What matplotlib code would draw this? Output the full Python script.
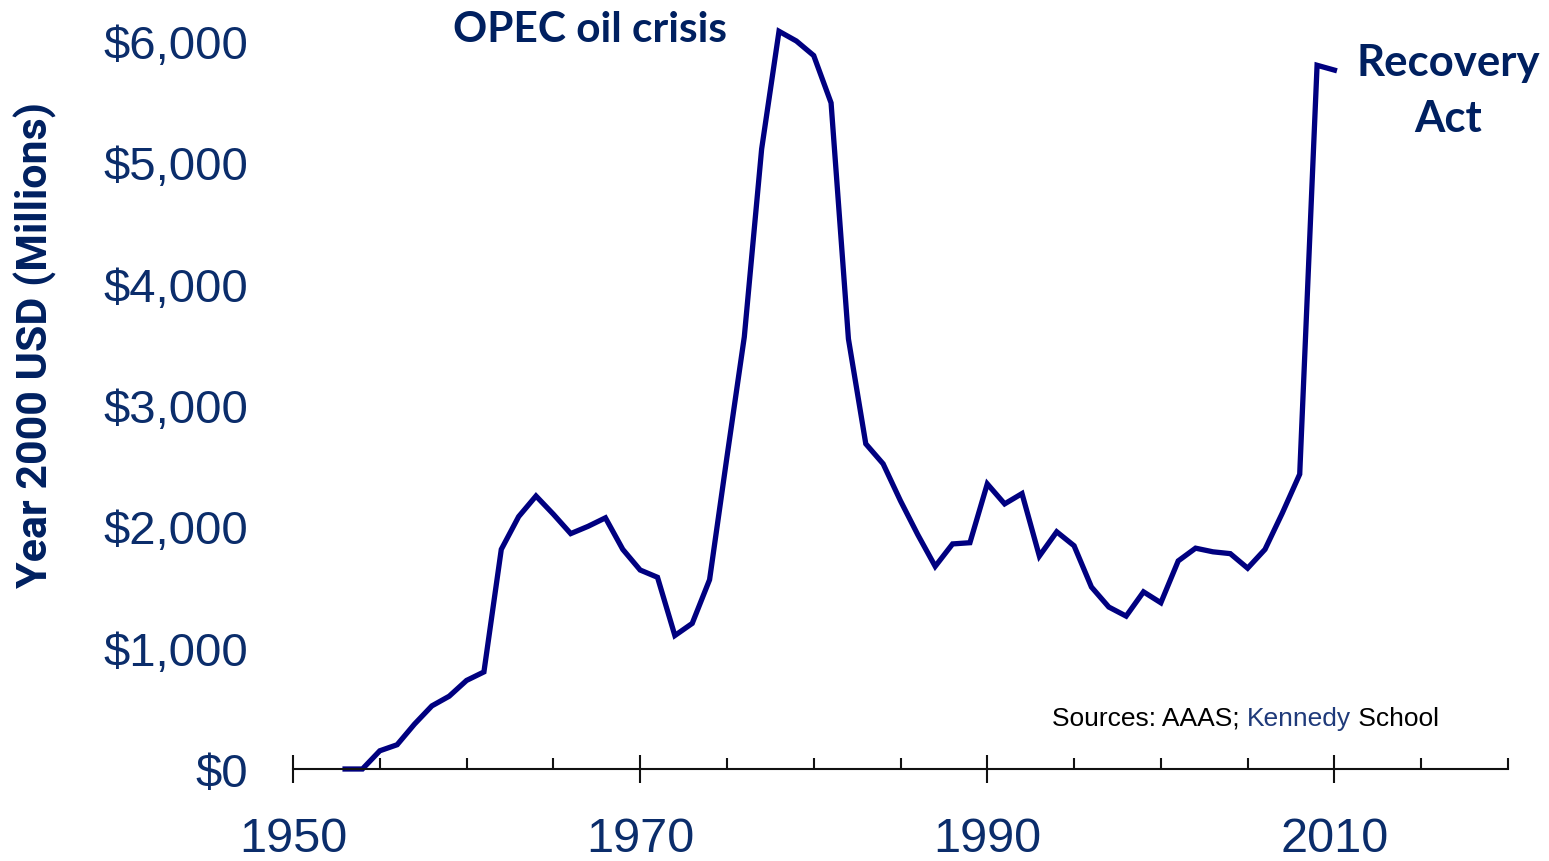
import matplotlib.pyplot as plt
from matplotlib.ticker import MultipleLocator, FuncFormatter

# R&D spending (Year 2000 USD, millions)
years = list(range(1953, 2011))
spending = [0, 0, 150, 200, 370, 520, 600, 730, 800, 1810,
            2080, 2250, 2100, 1940, 2000, 2070, 1810, 1640, 1580, 1100,
            1200, 1560, 2570, 3560, 5110, 6080, 6000, 5880, 5490, 3545,
            2680, 2515, 2210, 1930, 1670, 1855, 1865, 2350, 2185, 2270,
            1755, 1955, 1840, 1500, 1335, 1260, 1460, 1370, 1715, 1820,
            1790, 1775, 1655, 1810, 2110, 2430, 5800, 5760]

x_ticks = [1950, 1970, 1990, 2010]
y_ticks = [0, 1000, 2000, 3000, 4000, 5000, 6000]

navy = "#000080"
dark = "#002060"
tick_col = "#0b2d6b"

fig = plt.figure(figsize=(15.49, 8.62), dpi=100)
ax = fig.add_axes([293 / 1549, 92 / 862, (1508 - 293) / 1549, (770 - 42) / 862])

ax.plot(years, spending, color=navy, linewidth=3.8, clip_on=False,
        solid_joinstyle="miter")

ax.set_xlim(1950, 2020)
ax.set_ylim(0, 6000)

for s in ["top", "right", "left"]:
    ax.spines[s].set_visible(False)
ax.spines["bottom"].set_linewidth(1.5)
ax.spines["bottom"].set_color("#111111")

ax.set_xticks(x_ticks)
ax.xaxis.set_minor_locator(MultipleLocator(5))
ax.tick_params(axis="x", which="major", direction="inout", length=19.5, width=1.5,
               color="#111111", pad=24, labelsize=35, labelcolor=tick_col)
ax.tick_params(axis="x", which="minor", direction="in", length=8, width=1.5,
               color="#111111")
for lab in ax.get_xticklabels():
    lab.set_fontfamily("Liberation Sans")

ax.set_yticks(y_ticks)
ax.yaxis.set_major_formatter(FuncFormatter(lambda v, p: "${:,.0f}".format(v)))
ax.tick_params(axis="y", length=0, pad=32, labelsize=34, labelcolor=tick_col)
for lab in ax.get_yticklabels():
    lab.set_fontfamily("Liberation Sans")

fig.text(35 / 1549, 1 - 345 / 862, "Year 2000 USD (Millions)", rotation=90,
         ha="center", va="center", fontsize=31, fontweight="bold", color=dark,
         family="Roboto")

fig.text(590 / 1549, 1 - 30 / 862, "OPEC oil crisis", ha="center", va="center",
         fontsize=30.5, fontweight="bold", color=dark, family="Lato")
fig.text(1448 / 1549, 1 - 91 / 862, "Recovery\nAct", ha="center", va="center",
         fontsize=31.5, fontweight="bold", color=dark, family="Lato",
         linespacing=1.5)

t1 = fig.text(1052 / 1549, 1 - 719 / 862, "Sources: AAAS; ", ha="left", va="center",
              fontsize=19, color="black", family="Liberation Sans")
t2 = ax.annotate("Kennedy", xy=(1, 0), xycoords=t1, ha="left", va="bottom",
                 fontsize=19, color="#1f3a7a", family="Liberation Sans")
ax.annotate(" School", xy=(1, 0), xycoords=t2, ha="left", va="bottom",
            fontsize=19, color="black", family="Liberation Sans")

fig.savefig("out.png", dpi=100)
